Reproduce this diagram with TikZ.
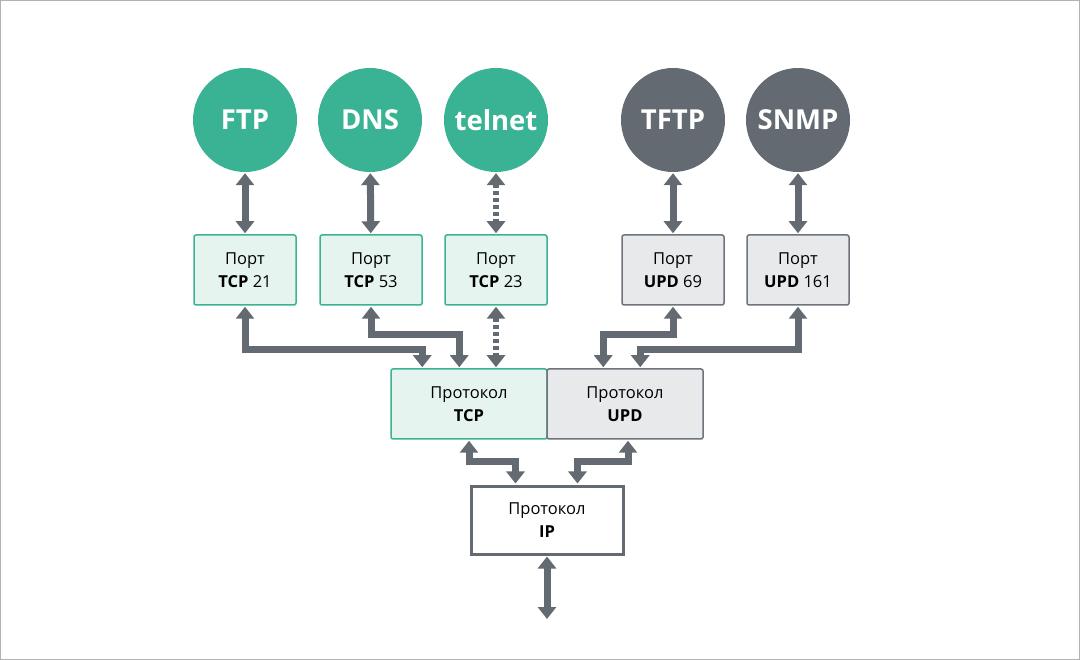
\documentclass[tikz,border=0pt]{standalone}
\usepackage{fontspec}
\setmainfont{Open Sans}
\usetikzlibrary{arrows.meta,calc}
\definecolor{grn}{HTML}{3AB394}
\definecolor{dgr}{HTML}{646A72}
\definecolor{gfill}{HTML}{E6F4F0}
\definecolor{hfill}{HTML}{E8E9EB}
\definecolor{hline}{HTML}{6E747C}
\begin{document}
\begin{tikzpicture}[x=1pt,y=-1pt,
  appc/.style={circle,minimum size=104pt,inner sep=0pt,text=white,font=\fontsize{27.5}{30}\selectfont\bfseries},
  gc/.style={appc,fill=grn},
  dc/.style={appc,fill=dgr},
  portg/.style={draw=grn,line width=1.5pt,fill=gfill,rounded corners=2pt,minimum width=102pt,minimum height=70pt,align=center,font=\fontsize{16.5}{23}\selectfont},
  porth/.style={portg,draw=hline,fill=hfill},
  ipbox/.style={draw=dgr,line width=3pt,fill=white,minimum width=152pt,minimum height=68pt,align=center,font=\fontsize{16.5}{23}\selectfont},
  arr/.style={draw=dgr,line width=7pt,line join=miter,{Triangle[width=18pt,length=12pt]}-{Triangle[width=18pt,length=12pt]},shorten <=1pt,shorten >=1pt},
  darr/.style={arr,line width=6pt,dash pattern=on 4pt off 3pt}
]
\useasboundingbox (0,0) rectangle (1080,660);
\draw[draw=black!30,line width=1pt] (0.5,0.5) rectangle (1079.5,659.5);

\node[gc] (ftp) at (245,120) {FTP};
\node[gc] (dns) at (370,120) {DNS};
\node[gc] (tel) at (496,120) {telnet};
\node[dc] (tftp) at (673,120) {TFTP};
\node[dc] (snmp) at (798,120) {SNMP};

\node[portg] (p21) at (245,270) {Порт\\\textbf{TCP} 21};
\node[portg] (p53) at (371,270) {Порт\\\textbf{TCP} 53};
\node[portg] (p23) at (496,270) {Порт\\\textbf{TCP} 23};
\node[porth] (p69) at (673,270) {Порт\\\textbf{UPD} 69};
\node[porth] (p161) at (798,270) {Порт\\\textbf{UPD} 161};

\node[portg,minimum width=156pt] (tcp) at (469,404) {Протокол\\\textbf{TCP}};
\node[porth,minimum width=156pt] (udp) at (625,404) {Протокол\\\textbf{UPD}};

\node[ipbox] (ip) at (547,520) {Протокол\\\textbf{IP}};
\coordinate (out) at (547,620);

\draw[arr] (ftp) -- (p21);
\draw[arr] (dns) -- (p53);
\draw[darr] (tel) -- (p23);
\draw[arr] (tftp) -- (p69);
\draw[arr] (snmp) -- (p161);

\draw[arr] (p21.south) -- ++(0,44) -| ($(tcp.north west)+(32,0)$);
\draw[arr] (p53.south) -- ++(0,29) -| ($(tcp.north west)+(69,0)$);
\draw[darr] (p23.south) -- (p23.south |- tcp.north);
\draw[arr] (p69.south) -- ++(0,29) -| ($(udp.north west)+(57,0)$);
\draw[arr] (p161.south) -- ++(0,44) -| ($(udp.north west)+(94,0)$);

\draw[arr] (tcp.south) -- ++(0,22) -| ($(ip.north west)+(46,0)$);
\draw[arr] ($(udp.south)+(3,0)$) -- ++(0,22) -| ($(ip.north west)+(108,0)$);
\draw[arr] (ip.south) -- (out);
\end{tikzpicture}
\end{document}
